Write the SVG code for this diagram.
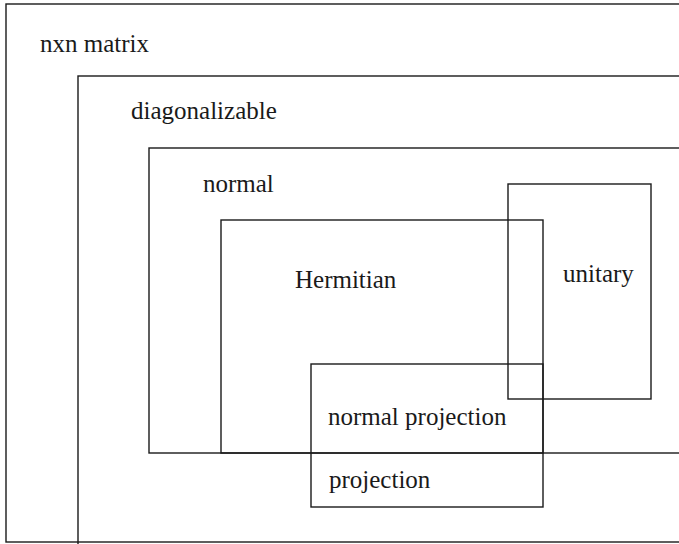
<svg xmlns="http://www.w3.org/2000/svg" width="679" height="544" viewBox="0 0 679 544">
<style>
rect.box{fill:none;stroke:#1a1a1a;stroke-width:1.4}
.t{font-family:'Liberation Serif','Times New Roman',Times,'DejaVu Serif',serif;font-size:25px;fill:#1a1a1a}
</style>
<rect width="679" height="544" fill="#fff"/>
<g id="nxn">
<rect class="box" x="6" y="4" width="700" height="538"/>
<text class="t" x="40" y="52" font-family="Liberation Serif, serif">nxn matrix</text>
</g>
<g id="diagonalizable">
<rect class="box" x="78" y="76" width="700" height="500"/>
<text class="t" x="131" y="119" font-family="Liberation Serif, serif">diagonalizable</text>
</g>
<g id="normal">
<rect class="box" x="149" y="148" width="600" height="305"/>
<text class="t" x="203" y="192" font-family="Liberation Serif, serif">normal</text>
</g>
<g id="hermitian">
<rect class="box" x="221" y="220" width="322" height="233"/>
<text class="t" x="295" y="288" font-family="Liberation Serif, serif">Hermitian</text>
</g>
<g id="unitary">
<rect class="box" x="508" y="184" width="143" height="215"/>
<text class="t" x="563" y="282" font-family="Liberation Serif, serif">unitary</text>
</g>
<g id="projection">
<rect class="box" x="311" y="364" width="232" height="143"/>
<text class="t" x="328" y="425" font-family="Liberation Serif, serif">normal projection</text>
<text class="t" x="329" y="488" font-family="Liberation Serif, serif">projection</text>
</g>
<g id="connectors"></g>
</svg>
